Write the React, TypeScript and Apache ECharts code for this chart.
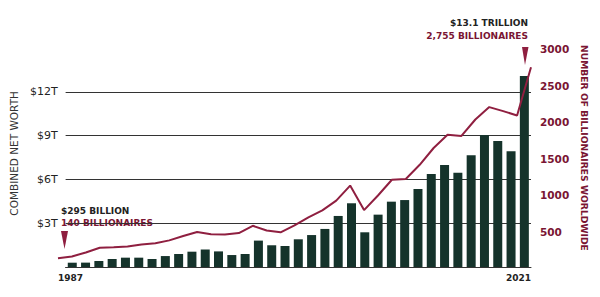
import React, { useEffect, useRef } from "react";
import * as echarts from "echarts";

const years = [
  "1987","1988","1989","1990","1991","1992","1993","1994","1995","1996",
  "1997","1998","1999","2000","2001","2002","2003","2004","2005","2006",
  "2007","2008","2009","2010","2011","2012","2013","2014","2015","2016",
  "2017","2018","2019","2020","2021",
];
// Combined net worth, trillions of dollars
const netWorth = [
  0.295, 0.3, 0.41, 0.55, 0.64, 0.64, 0.55, 0.75, 0.89, 1.05,
  1.2, 1.07, 0.82, 0.89, 1.81, 1.49, 1.44, 1.9, 2.19, 2.61,
  3.5, 4.37, 2.38, 3.59, 4.48, 4.59, 5.35, 6.38, 7.0, 6.47,
  7.66, 9.05, 8.64, 7.93, 13.1,
];
// Number of billionaires worldwide
const billionaires = [
  140, 165, 220, 285, 290, 300, 330, 345, 385, 445,
  500, 470, 465, 485, 585, 520, 495, 590, 700, 795,
  930, 1135, 800, 1000, 1215, 1225, 1420, 1650, 1830, 1815,
  2040, 2210, 2155, 2095, 2755,
];
const leftTicks = [0, 3, 6, 9, 12];
const rightTicks = [0, 500, 1000, 1500, 2000, 2500, 3000];

const RED = "#7a1533";
const LINE = "#8f1f40";
const BAR = "#15332b";
const INK = "#222222";
const GRID = "#333333";

export default function App() {
  const ref = useRef<HTMLDivElement>(null);
  useEffect(() => {
    if (!ref.current) return;
    const chart = echarts.init(ref.current, undefined, { renderer: "svg" });
    const last = years.length - 1;
    chart.setOption({
      animation: false,
      backgroundColor: "#ffffff",
      grid: [
        { left: 58, right: 69, top: 49.7, bottom: 30 },
        { left: 58, right: 69, top: 49.4, bottom: 28.5 },
      ],
      xAxis: [
        {
          type: "category",
          gridIndex: 0,
          data: years,
          boundaryGap: true,
          axisLine: { show: true, lineStyle: { color: GRID, width: 1 } },
          axisTick: { show: false },
          axisLabel: { show: false },
        },
        {
          type: "category",
          gridIndex: 1,
          data: years,
          boundaryGap: false,
          axisLine: { show: false },
          axisTick: { show: false },
          axisLabel: {
            show: true,
            interval: (i: number) => i === 0 || i === last,
            showMinLabel: true,
            showMaxLabel: true,
            alignMinLabel: "left",
            alignMaxLabel: "right",
            margin: 5,
            color: INK,
            fontFamily: "DejaVu Sans",
            fontWeight: "bold",
            fontSize: 9,
          },
        },
      ],
      yAxis: [
        {
          type: "value",
          gridIndex: 0,
          min: 0,
          max: 14.9,
          interval: 3,
          position: "left",
          name: "COMBINED NET WORTH",
          nameLocation: "middle",
          nameRotate: 90,
          nameGap: 42,
          nameTextStyle: {
            color: "#333",
            fontFamily: "DejaVu Sans",
            fontSize: 10.5,
            padding: [0, 0, 0, 10],
          },
          axisLine: { show: false },
          axisTick: { show: false },
          axisLabel: {
            margin: 8,
            color: INK,
            fontFamily: "DejaVu Sans",
            fontSize: 11,
            formatter: (v: number) => (leftTicks.includes(v) && v !== 0 ? "$" + v + "T" : ""),
          },
          splitLine: {
            show: true,
            lineStyle: { color: [GRID, GRID, GRID, GRID, GRID, "rgba(0,0,0,0)"], width: 1 },
          },
        },
        {
          type: "value",
          gridIndex: 1,
          min: 0,
          max: 3000,
          interval: 500,
          position: "right",
          name: "NUMBER OF BILLIONAIRES WORLDWIDE",
          nameLocation: "middle",
          nameRotate: -90,
          nameGap: 48,
          nameTextStyle: {
            color: RED,
            fontFamily: "DejaVu Sans",
            fontWeight: "bold",
            fontSize: 9.2,
            padding: [0, 22, 0, 0],
          },
          axisLine: { show: false },
          axisTick: { show: false },
          splitLine: { show: false },
          axisLabel: {
            margin: 9,
            color: RED,
            fontFamily: "DejaVu Sans",
            fontWeight: "bold",
            fontSize: 10.5,
            padding: [0, 0, 6, 0],
            formatter: (v: number) => (rightTicks.includes(v) && v !== 0 ? String(v) : ""),
          },
        },
      ],
      series: [
        {
          type: "bar",
          xAxisIndex: 0,
          yAxisIndex: 0,
          data: netWorth,
          barWidth: 9,
          itemStyle: { color: BAR },
          z: 2,
        },
        {
          type: "line",
          xAxisIndex: 1,
          yAxisIndex: 1,
          data: billionaires,
          symbol: "none",
          lineStyle: { color: LINE, width: 2 },
          z: 3,
        },
      ],
      graphic: [
        {
          type: "text",
          left: 61,
          top: 206,
          z: -1,
          style: { text: "$295 BILLION", fill: INK, font: "bold 9px 'DejaVu Sans'" },
        },
        {
          type: "text",
          left: 61,
          top: 218,
          z: -1,
          style: { text: "140 BILLIONAIRES", fill: RED, font: "bold 9px 'DejaVu Sans'" },
        },
        {
          type: "polygon",
          shape: { points: [[61, 231], [68, 231], [64.5, 249]] },
          style: { fill: LINE },
        },
        {
          type: "text",
          right: 72,
          top: 18,
          style: { text: "$13.1 TRILLION", fill: INK, font: "bold 9px 'DejaVu Sans'", align: "right" },
        },
        {
          type: "text",
          right: 72,
          top: 31,
          style: { text: "2,755 BILLIONAIRES", fill: RED, font: "bold 9px 'DejaVu Sans'", align: "right" },
        },
        {
          type: "polygon",
          shape: { points: [[522, 47], [528.5, 47], [525, 65]] },
          style: { fill: LINE },
        },
      ],
    });
    return () => chart.dispose();
  }, []);
  return (
    <div
      ref={ref}
      style={{ position: "fixed", left: 0, top: 0, width: 600, height: 297 }}
    />
  );
}
